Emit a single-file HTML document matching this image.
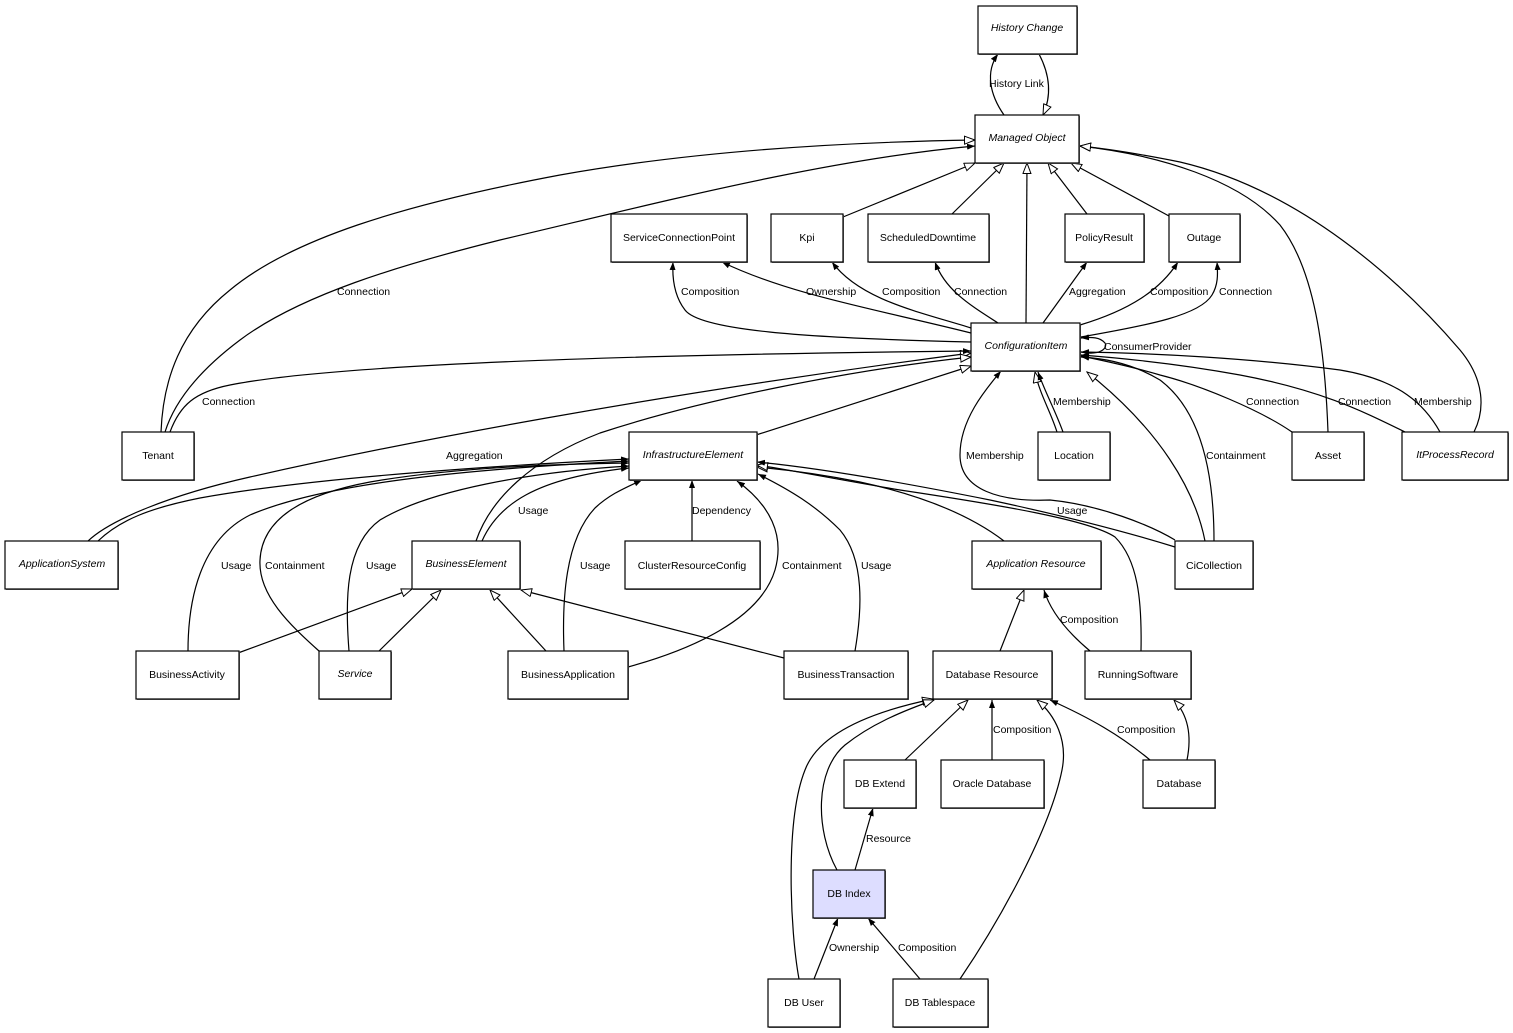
<!DOCTYPE html>
<html><head><meta charset="utf-8"><style>
html,body{margin:0;padding:0;background:#fff;}
svg{display:block;}
text{font-family:"Liberation Sans",Arial,sans-serif;font-size:10.5px;fill:#000;}
.n{text-anchor:middle;}
.i{font-style:italic;}
.e{fill:none;stroke:#000;stroke-width:1.2;}
.b{fill:#fff;stroke:#000;stroke-width:1.2;}
.s{fill:#777;}
</style></head><body>
<svg width="1513" height="1033" viewBox="0 0 1513 1033" xmlns="http://www.w3.org/2000/svg">
<defs>
<marker id="h" markerUnits="userSpaceOnUse" markerWidth="14" markerHeight="12" refX="11" refY="4.5" orient="auto"><path d="M0.5,0.5 L11,4.5 L0.5,8.5 z" fill="#fff" stroke="#000" stroke-width="1"/></marker>
<marker id="f" markerUnits="userSpaceOnUse" markerWidth="10" markerHeight="8" refX="8" refY="3" orient="auto"><path d="M0,0 L8,3 L0,6 z" fill="#000"/></marker>
</defs>
<rect width="1513" height="1033" fill="#fff"/>

<!-- generalization edges (hollow) -->
<g class="e" marker-end="url(#h)">
<path d="M1039,54 C1050,75 1052,95 1043,115"/>
<path d="M161,432 C163,380 180,330 230,290 C290,240 400,205 560,175 C700,150 850,142 975,140"/>
<path d="M843,217 L975,163"/>
<path d="M952,214 L1004,163"/>
<path d="M1026,323 L1027,163"/>
<path d="M1087,214 L1048,163"/>
<path d="M1169,216 L1071,163"/>
<path d="M1328,432 C1325,350 1315,270 1280,225 C1240,180 1160,155 1080,146"/>
<path d="M1474,432 C1485,410 1485,380 1460,350 C1400,280 1300,190 1180,162 C1130,152 1100,148 1080,146"/>
<path d="M88,541 C110,520 170,495 250,477 C400,443 650,395 971,353"/>
<path d="M476,541 C490,500 530,460 600,433 C700,400 850,370 971,357"/>
<path d="M756,435 L971,366"/>
<path d="M1057,432 C1050,410 1040,395 1035,372"/>
<path d="M1205,541 C1195,490 1160,430 1087,372"/>
<path d="M1004,541 C970,515 920,495 860,482 C820,474 790,470 757,467"/>
<path d="M1141,651 C1142,600 1138,560 1115,537 C1090,520 1000,505 900,490 C830,478 790,470 757,465"/>
<path d="M238,653 L412,589"/>
<path d="M379,651 L441,590"/>
<path d="M546,651 L490,590"/>
<path d="M784,658 L521,590"/>
<path d="M1000,651 L1024,590"/>
<path d="M799,979 C790,930 785,820 805,770 C820,730 880,710 933,699"/>
<path d="M837,870 C815,830 815,770 845,745 C870,725 900,712 934,700"/>
<path d="M905,760 L968,700"/>
<path d="M960,979 C1000,920 1050,830 1062,770 C1068,740 1055,715 1037,700"/>
<path d="M1187,760 C1192,735 1188,715 1174,700"/>
</g>

<!-- association edges (filled) -->
<g class="e" marker-end="url(#f)">
<path d="M1004,115 C990,95 985,72 998,54"/>
<path d="M165,432 C175,400 200,370 240,340 C300,295 400,265 500,240 C650,205 820,160 975,146"/>
<path d="M170,432 C180,405 195,392 230,385 C330,365 600,355 971,351"/>
<path d="M971,342 C800,338 700,330 685,310 C675,297 672,280 673,262"/>
<path d="M971,333 C880,310 790,295 722,262"/>
<path d="M971,328 C920,312 860,300 832,262"/>
<path d="M998,323 C970,305 945,290 935,262"/>
<path d="M1043,323 L1087,262"/>
<path d="M1080,325 C1130,310 1160,290 1178,262"/>
<path d="M1081,337 C1150,325 1200,315 1212,295 C1218,285 1218,275 1217,262"/>
<path d="M1081,352 C1100,356 1108,348 1105,343 C1100,337 1092,337 1081,338"/>
<path d="M1063,432 C1055,410 1045,392 1038,372"/>
<path d="M1175,540 C1150,525 1100,505 1050,500 C1000,502 960,490 960,455 C960,420 985,390 1001,371"/>
<path d="M1214,541 C1214,470 1200,410 1160,380 C1130,362 1100,358 1081,357"/>
<path d="M1292,432 C1260,410 1200,385 1160,375 C1130,366 1100,360 1081,356"/>
<path d="M1405,432 C1360,410 1320,390 1240,375 C1180,364 1120,358 1081,355"/>
<path d="M1440,432 C1425,405 1400,380 1340,370 C1250,358 1150,353 1081,352"/>
<path d="M98,541 C120,520 150,508 200,498 C300,480 450,468 629,459"/>
<path d="M188,651 C188,600 200,540 250,515 C320,485 450,470 629,461"/>
<path d="M319,651 C290,625 258,595 260,560 C262,520 300,495 370,482 C450,468 550,464 629,463"/>
<path d="M349,651 C345,600 345,545 380,520 C430,490 530,472 629,466"/>
<path d="M482,541 C498,505 535,478 629,468"/>
<path d="M564,651 C562,600 565,540 595,508 C610,494 625,488 642,480"/>
<path d="M692,541 L692,480"/>
<path d="M628,667 C690,650 760,620 775,570 C785,535 770,505 737,481"/>
<path d="M855,651 C862,610 865,560 840,530 C815,505 790,490 758,474"/>
<path d="M1175,547 C1120,530 1060,515 990,500 C900,482 820,468 757,462"/>
<path d="M1090,651 C1065,630 1050,610 1044,590"/>
<path d="M992,760 L992,700"/>
<path d="M1150,760 C1120,735 1090,718 1050,700"/>
<path d="M855,870 L873,808"/>
<path d="M814,979 L838,918"/>
<path d="M920,979 L868,918"/>
</g>

<!-- nodes -->
<g>
<rect class="s" x="979" y="7" width="99" height="48"/><rect class="b" x="978" y="6" width="99" height="48"/>
<rect class="s" x="976" y="116" width="104" height="48"/><rect class="b" x="975" y="115" width="104" height="48"/>
<rect class="s" x="612" y="215" width="136" height="48"/><rect class="b" x="611" y="214" width="136" height="48"/>
<rect class="s" x="772" y="215" width="72" height="48"/><rect class="b" x="771" y="214" width="72" height="48"/>
<rect class="s" x="869" y="215" width="121" height="48"/><rect class="b" x="868" y="214" width="121" height="48"/>
<rect class="s" x="1066" y="215" width="79" height="48"/><rect class="b" x="1065" y="214" width="79" height="48"/>
<rect class="s" x="1170" y="215" width="71" height="48"/><rect class="b" x="1169" y="214" width="71" height="48"/>
<rect class="s" x="972" y="324" width="109" height="48"/><rect class="b" x="971" y="323" width="109" height="48"/>
<rect class="s" x="123" y="433" width="72" height="48"/><rect class="b" x="122" y="432" width="72" height="48"/>
<rect class="s" x="630" y="433" width="128" height="48"/><rect class="b" x="629" y="432" width="128" height="48"/>
<rect class="s" x="1039" y="433" width="72" height="48"/><rect class="b" x="1038" y="432" width="72" height="48"/>
<rect class="s" x="1293" y="433" width="72" height="48"/><rect class="b" x="1292" y="432" width="72" height="48"/>
<rect class="s" x="1403" y="433" width="106" height="48"/><rect class="b" x="1402" y="432" width="106" height="48"/>
<rect class="s" x="6" y="542" width="113" height="48"/><rect class="b" x="5" y="541" width="113" height="48"/>
<rect class="s" x="413" y="542" width="108" height="48"/><rect class="b" x="412" y="541" width="108" height="48"/>
<rect class="s" x="626" y="542" width="135" height="48"/><rect class="b" x="625" y="541" width="135" height="48"/>
<rect class="s" x="973" y="542" width="129" height="48"/><rect class="b" x="972" y="541" width="129" height="48"/>
<rect class="s" x="1176" y="542" width="78" height="48"/><rect class="b" x="1175" y="541" width="78" height="48"/>
<rect class="s" x="137" y="652" width="103" height="48"/><rect class="b" x="136" y="651" width="103" height="48"/>
<rect class="s" x="320" y="652" width="72" height="48"/><rect class="b" x="319" y="651" width="72" height="48"/>
<rect class="s" x="509" y="652" width="120" height="48"/><rect class="b" x="508" y="651" width="120" height="48"/>
<rect class="s" x="785" y="652" width="124" height="48"/><rect class="b" x="784" y="651" width="124" height="48"/>
<rect class="s" x="934" y="652" width="119" height="48"/><rect class="b" x="933" y="651" width="119" height="48"/>
<rect class="s" x="1086" y="652" width="106" height="48"/><rect class="b" x="1085" y="651" width="106" height="48"/>
<rect class="s" x="845" y="761" width="72" height="48"/><rect class="b" x="844" y="760" width="72" height="48"/>
<rect class="s" x="942" y="761" width="103" height="48"/><rect class="b" x="941" y="760" width="103" height="48"/>
<rect class="s" x="1144" y="761" width="72" height="48"/><rect class="b" x="1143" y="760" width="72" height="48"/>
<rect class="s" x="814" y="871" width="72" height="48"/><rect class="b" x="813" y="870" width="72" height="48" style="fill:#ddddff"/>
<rect class="s" x="769" y="980" width="72" height="48"/><rect class="b" x="768" y="979" width="72" height="48"/>
<rect class="s" x="894" y="980" width="95" height="48"/><rect class="b" x="893" y="979" width="95" height="48"/>
</g>

<!-- node labels -->
<g>
<text class="n i" x="1027" y="31">History Change</text>
<text class="n i" x="1027" y="141">Managed Object</text>
<text class="n" x="679" y="241">ServiceConnectionPoint</text>
<text class="n" x="807" y="241">Kpi</text>
<text class="n" x="928" y="241">ScheduledDowntime</text>
<text class="n" x="1104" y="241">PolicyResult</text>
<text class="n" x="1204" y="241">Outage</text>
<text class="n i" x="1026" y="349">ConfigurationItem</text>
<text class="n" x="158" y="459">Tenant</text>
<text class="n i" x="693" y="458">InfrastructureElement</text>
<text class="n" x="1074" y="459">Location</text>
<text class="n" x="1328" y="459">Asset</text>
<text class="n i" x="1455" y="458">ItProcessRecord</text>
<text class="n i" x="62" y="567">ApplicationSystem</text>
<text class="n i" x="466" y="567">BusinessElement</text>
<text class="n" x="692" y="569">ClusterResourceConfig</text>
<text class="n i" x="1036" y="567">Application Resource</text>
<text class="n" x="1214" y="569">CiCollection</text>
<text class="n" x="187" y="678">BusinessActivity</text>
<text class="n i" x="355" y="677">Service</text>
<text class="n" x="568" y="678">BusinessApplication</text>
<text class="n" x="846" y="678">BusinessTransaction</text>
<text class="n" x="992" y="678">Database Resource</text>
<text class="n" x="1138" y="678">RunningSoftware</text>
<text class="n" x="880" y="787">DB Extend</text>
<text class="n" x="992" y="787">Oracle Database</text>
<text class="n" x="1179" y="787">Database</text>
<text class="n" x="849" y="897">DB Index</text>
<text class="n" x="804" y="1006">DB User</text>
<text class="n" x="940" y="1006">DB Tablespace</text>
</g>

<!-- edge labels -->
<g>
<text x="989" y="87">History Link</text>
<text x="337" y="295">Connection</text>
<text x="681" y="295">Composition</text>
<text x="806" y="295">Ownership</text>
<text x="882" y="295">Composition</text>
<text x="954" y="295">Connection</text>
<text x="1069" y="295">Aggregation</text>
<text x="1150" y="295">Composition</text>
<text x="1219" y="295">Connection</text>
<text x="1104" y="350">ConsumerProvider</text>
<text x="202" y="405">Connection</text>
<text x="1053" y="405">Membership</text>
<text x="1246" y="405">Connection</text>
<text x="1338" y="405">Connection</text>
<text x="1414" y="405">Membership</text>
<text x="446" y="459">Aggregation</text>
<text x="966" y="459">Membership</text>
<text x="1206" y="459">Containment</text>
<text x="518" y="514">Usage</text>
<text x="692" y="514">Dependency</text>
<text x="1057" y="514">Usage</text>
<text x="221" y="569">Usage</text>
<text x="265" y="569">Containment</text>
<text x="366" y="569">Usage</text>
<text x="580" y="569">Usage</text>
<text x="782" y="569">Containment</text>
<text x="861" y="569">Usage</text>
<text x="1060" y="623">Composition</text>
<text x="993" y="733">Composition</text>
<text x="1117" y="733">Composition</text>
<text x="866" y="842">Resource</text>
<text x="829" y="951">Ownership</text>
<text x="898" y="951">Composition</text>
</g>
</svg>
</body></html>
